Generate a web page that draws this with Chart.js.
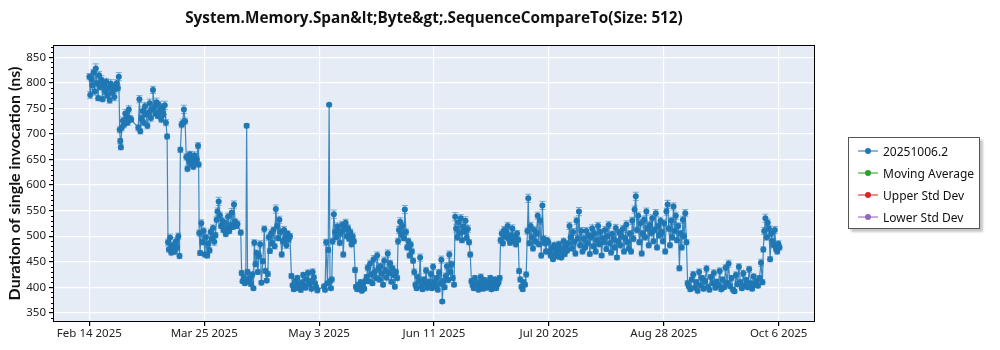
<!DOCTYPE html>
<html>
<head>
<meta charset="utf-8">
<script src="https://cdn.jsdelivr.net/npm/chart.js@4.4.1/dist/chart.umd.min.js"></script>
<style>
  body { margin: 0; background: #fff; }
  #wrap { position: relative; width: 1000px; height: 350px; }
  #chartTitle {
    position: absolute; left: 54px; width: 760px; top: 7px;
    text-align: center; font: bold 15.3px "Open Sans", sans-serif; color: #111;
  }
  #legendBox {
    position: absolute; left: 848px; top: 137px; width: 132px; height: 92px;
    border: 1px solid #555; background: #fff; box-shadow: 3px 3px 2px #c8c8c8;
    box-sizing: border-box; padding-top: 2px;
  }
  .legendRow { height: 22px; display: flex; align-items: center; white-space: nowrap;
    font: 12px "Noto Sans", sans-serif; color: #111; }
  .legendRow svg { margin: 0 5px 0 9px; flex: none; }
</style>
</head>
<body>
<div id="wrap">
  <canvas id="perfChart" width="1000" height="350"></canvas>
  <div id="chartTitle"></div>
  <div id="legendBox"></div>
</div>
<script>
const chartTitle = 'System.Memory.Span&lt;Byte&gt;.SequenceCompareTo(Size: 512)';
const seriesNames = ['20251006.2', 'Moving Average', 'Upper Std Dev', 'Lower Std Dev'];
const seriesColors = ['#1f77b4', '#2ca02c', '#d62728', '#9467bd'];

// x tick positions are days after 2025-02-14
const xTickDays = [0, 39, 78, 117, 156, 195, 234];
const xTickLabels = ['Feb 14 2025', 'Mar 25 2025', 'May 3 2025', 'Jun 11 2025', 'Jul 20 2025', 'Aug 28 2025', 'Oct 6 2025'];
const yTickValues = [350, 400, 450, 500, 550, 600, 650, 700, 750, 800, 850];

// days after Feb 14 2025 for every benchmark run
const runDays = [
  0, 0.3, 0.7, 1.0, 1.4, 1.8, 2.2, 2.6, 3.0, 3.3, 3.7, 4.1, 4.5, 4.9, 5.3, 5.7, 6.1, 6.5, 6.9, 7.3, 7.7, 8.1, 8.5, 8.9, 9.3, 9.7, 10.0,
  10.3, 10.5, 10.7, 11.0, 11.4, 11.8, 12.2, 12.6, 13.0, 13.4, 13.8, 14.2, 16.6,
  17.0, 17.3, 17.7, 18.1, 18.5, 18.9, 19.3, 19.7, 20.1, 20.5, 20.9, 21.3, 21.6, 22.0, 22.4, 22.8, 23.2, 23.6, 24.0, 24.4, 24.8, 25.2, 25.6, 26.0, 26.4,
  26.7, 27.0, 27.4, 27.8, 28.2, 28.6, 29.0, 29.4, 29.8, 30.2, 30.6, 30.9, 31.3, 31.7, 32.1, 32.5,
  32.9, 33.3, 33.7, 34.1, 34.5, 34.9, 35.3, 35.7, 36.1, 36.5, 36.9, 37.1,
  37.3, 37.6, 38.0, 38.4, 38.8, 39.2, 39.6, 40.0, 40.4, 40.8, 41.2, 41.6, 42.0, 42.4, 42.8,
  43.2, 43.5, 43.9, 44.3, 44.7, 45.1, 45.5, 45.9, 46.3, 46.7, 47.1, 47.5, 47.9, 48.3, 48.7, 49.1, 49.5, 49.9, 50.3,
  51.4, 51.7, 52.0, 52.4, 52.8, 53.1, 53.4, 53.7, 54.1, 54.5, 54.9, 55.3,
  55.7, 56.0, 56.4, 56.8, 57.2, 57.6, 58.0, 58.4, 58.9, 59.4, 59.8, 60.2, 60.6,
  60.9, 61.3, 61.7, 62.1, 62.5, 62.9, 63.3, 63.7, 64.1, 64.5, 64.9, 65.3, 65.7, 66.1, 66.5, 66.9, 67.3, 67.7, 68.1,
  68.6, 69.0, 69.4, 69.8, 70.2, 70.6, 71.0, 71.4, 71.8, 72.2, 72.6, 73.0, 73.4, 73.8, 74.2, 74.6, 75.0, 75.4, 75.8, 76.2, 76.6, 77.0, 77.4,
  79.7, 80.0, 80.4, 80.8, 81.1, 81.4, 81.7, 82.0, 82.3,
  82.6, 83.0, 83.4, 83.8, 84.2, 84.6, 85.0, 85.4, 85.8, 86.2, 86.6, 87.0, 87.4, 87.8, 88.2, 88.6, 89.0, 89.4, 89.8,
  90.2, 90.5, 90.9, 91.3, 91.7, 92.1, 92.5, 92.9, 93.3, 93.7,
  94.1, 94.5, 94.9, 95.3, 95.7, 96.1, 96.5, 96.9, 97.3, 97.7, 98.1, 98.5, 98.9, 99.3, 99.7, 100.1, 100.5, 100.9, 101.3, 101.7, 102.1, 102.5, 102.9, 103.3, 103.7, 104.1, 104.5,
  104.8, 105.1, 105.5, 105.9, 106.3, 106.7, 107.1, 107.5, 107.9, 108.3, 108.7, 109.1, 109.5, 109.9,
  110.3, 110.7, 111.1, 111.5, 111.9, 112.3, 112.7, 113.1, 113.5, 113.9, 114.3, 114.7, 115.1, 115.5, 115.9, 116.3, 116.7, 117.1, 117.5, 117.9, 118.3, 118.7, 119.1, 119.5, 119.8, 120.2, 120.6, 121.0, 121.4, 121.8, 122.2, 122.6, 123.0, 123.4, 123.8,
  124.2, 124.5, 124.9, 125.3, 125.7, 126.1, 126.5, 126.9, 127.3, 127.7, 128.1, 128.5, 128.9, 129.3,
  129.7, 130.1, 130.5, 130.9, 131.3, 131.7, 132.1, 132.5, 132.9, 133.3, 133.7, 134.1, 134.5, 134.9, 135.3, 135.7, 136.1, 136.5, 136.9, 137.3, 137.7, 138.1, 138.5, 138.9, 139.3,
  139.6, 140.0, 140.4, 140.8, 141.2, 141.6, 142.0, 142.4, 142.8, 143.2, 143.6, 144.0, 144.4, 144.8, 145.2, 145.6,
  145.9, 146.3, 146.7, 147.1, 147.5, 147.9, 148.3,
  148.7, 149.0, 149.4, 149.8, 150.2, 150.6, 151.0, 151.4, 151.8, 152.2, 152.6, 153.0, 153.4, 153.8, 154.2, 154.6, 155.0,
  155.4, 155.8, 156.2, 156.6, 157.0, 157.4, 157.8, 158.2, 158.6, 159.0, 159.4, 159.8, 160.2, 160.6, 161.0, 161.4, 161.8, 162.2, 162.6,
  163.0, 163.4, 163.8, 164.2, 164.6, 165.0, 165.4, 165.8, 166.2, 166.6, 167.0, 167.4,
  167.9, 168.3, 168.7, 169.1, 169.5, 169.9, 170.3, 170.7, 171.1, 171.5, 171.9, 172.3, 172.7, 173.1, 173.5, 173.9, 174.3, 174.7, 175.1, 175.5,
  175.9, 176.3, 176.7, 177.1, 177.5, 177.9, 178.3, 178.7, 179.1, 179.5, 179.9, 180.3, 180.7, 181.1, 181.5, 181.9, 182.3, 182.7, 183.1, 183.5,
  183.9, 184.3, 184.7, 185.1, 185.5, 185.9, 186.3, 186.7, 187.1, 187.5, 187.9, 188.3, 188.7, 189.1, 189.5, 189.9, 190.3, 190.7, 191.1, 191.5, 191.9, 192.3, 192.7, 193.1, 193.5, 193.9,
  194.3, 194.7, 195.1, 195.5, 195.9, 196.3, 196.7, 197.1, 197.5, 197.9, 198.3, 198.7, 199.1, 199.5, 199.9, 200.3, 200.7, 201.1, 201.5, 201.9, 202.3, 202.7,
  203.1, 203.5, 204.0, 204.5, 205.0, 205.5, 206.0, 206.5, 207.0, 207.5, 208.0, 208.5, 209.0, 209.5, 210.0, 210.5, 211.0, 211.5, 212.0, 212.5,
  213.0, 213.5, 214.0, 214.5, 215.0, 215.5, 216.0, 216.5, 217.0, 217.5, 218.0, 218.5, 219.0, 219.5, 220.0, 220.5, 221.0, 221.5, 222.0, 222.5,
  223.0, 223.5, 224.0, 224.5, 225.0, 225.5, 226.0, 226.5, 227.0, 227.5, 228.0, 228.5,
  228.8, 229.1, 229.5, 229.9, 230.3, 230.7, 231.1, 231.5, 231.9, 232.3, 232.7, 233.1, 233.5, 233.9, 234.3
];

// mean duration of a single invocation, ns
const durations = [
  812, 776, 808, 795, 820, 783, 828, 799, 770, 815, 792, 806, 768, 797, 784, 802, 775, 791, 766, 798, 781, 793, 772, 788, 799, 790, 812,
  708, 686, 674, 712, 726, 718, 740, 733, 722, 748, 730, 728, 712,
  768, 705, 730, 745, 722, 754, 738, 716, 742, 760, 731, 748, 786, 752, 740, 762, 735, 757, 744, 728, 749, 738, 756, 722, 695,
  488, 474, 497, 468, 482, 476, 470, 490, 478, 500, 461, 669, 718, 722, 748, 725,
  655, 632, 648, 660, 641, 652, 636, 658, 645, 650, 677, 640,
  506, 467, 525, 488, 510, 464, 498, 462, 485, 472, 508, 495, 516, 489, 502,
  532, 548, 568, 541, 520, 530, 512, 526, 504, 515, 538, 510, 522, 546, 518, 562, 528, 520, 524,
  507, 428, 412, 420, 408, 415, 716, 430, 411, 418, 406, 425,
  398, 487, 445, 467, 430, 461, 484, 409, 451, 514, 432, 413, 426,
  498, 471, 505, 486, 512, 480, 553, 520, 496, 532, 508, 464, 490, 512, 498, 482, 505, 494, 500,
  422, 404, 396, 412, 401, 418, 398, 407, 395, 410, 424, 403, 399, 415, 428, 406, 412, 397, 430, 419, 408, 400, 394,
  402, 395, 488, 408, 473, 757, 412, 398, 415,
  490, 543, 508, 498, 519, 510, 487, 505, 522, 464, 513, 526, 500, 516, 495, 508, 484, 500, 490,
  434, 401, 396, 405, 398, 410, 393, 402, 397, 412,
  420, 438, 412, 446, 425, 408, 455, 430, 418, 462, 436, 415, 441, 427, 405, 452, 433, 419, 466, 428, 447, 411, 437, 424, 401, 430, 418,
  490, 512, 528, 503, 520, 496, 552, 508, 478, 490, 462, 483, 470, 452,
  430, 405, 398, 420, 412, 458, 402, 396, 415, 408, 433, 399, 411, 405, 426, 398, 440, 410, 402, 418, 395, 429, 407, 454, 372, 412, 400, 422, 441, 414, 464, 430, 445, 418, 405,
  538, 515, 498, 527, 506, 535, 492, 519, 509, 530, 497, 514, 488, 464,
  412, 404, 398, 418, 407, 400, 395, 410, 420, 402, 397, 414, 406, 399, 411, 403, 418, 396, 408, 401, 415, 398, 405, 410, 418,
  492, 505, 486, 512, 499, 508, 520, 495, 487, 502, 515, 490, 498, 484, 505, 493,
  432, 415, 401, 396, 410, 405, 425,
  510, 574, 486, 520, 498, 476, 512, 490, 505, 540, 484, 530, 462, 560, 495, 486, 470,
  492, 488, 470, 462, 478, 455, 482, 466, 474, 460, 484, 470, 458, 476, 490, 465, 480, 472, 486,
  520, 498, 476, 508, 488, 466, 530, 495, 548, 482, 510, 470,
  495, 478, 510, 486, 502, 465, 498, 515, 480, 505, 470, 492, 520, 484, 508, 462, 496, 488, 512, 475,
  500, 522, 486, 468, 504, 494, 478, 516, 458, 490, 507, 482, 500, 514, 470, 496, 523, 488, 476, 505,
  470, 530, 495, 552, 578, 512, 540, 488, 525, 466, 505, 532, 498, 548, 515, 482, 522, 506, 535, 490, 512, 545, 478, 520, 502, 530,
  508, 490, 525, 470, 548, 562, 515, 482, 530, 498, 558, 510, 540, 492, 520, 437, 505, 478, 532, 500, 545, 488,
  408, 402, 396, 415, 425, 399, 410, 393, 430, 404, 418, 397, 412, 436, 401, 395, 420, 408, 428, 399,
  411, 404, 432, 396, 415, 400, 438, 409, 446, 402, 418, 395, 392, 424, 406, 440, 410, 398, 427, 403,
  414, 400, 435, 408, 397, 421, 405, 412, 403, 418, 448, 410,
  474, 510, 535, 498, 526, 515, 455, 505, 490, 482, 512, 475, 470, 485, 478
];

// standard deviation of each run, ns (drawn as error bars)
const stdDevs = [
  6, 7, 5, 8, 6, 7, 9, 6, 5, 7, 6, 8, 5, 6, 7, 6, 5, 7, 6, 8, 6, 5, 7, 6, 7, 6, 8,
  6, 5, 5, 6, 7, 6, 8, 6, 5, 7, 6, 5, 6,
  7, 5, 6, 8, 6, 7, 5, 6, 7, 8, 6, 5, 7, 6, 6, 8, 5, 7, 6, 5, 7, 6, 8, 6, 5,
  6, 5, 7, 5, 6, 5, 6, 7, 5, 6, 5, 5, 6, 7, 8, 6,
  6, 5, 7, 6, 5, 6, 5, 7, 6, 5, 6, 5,
  6, 5, 7, 5, 6, 5, 6, 5, 7, 5, 6, 5, 6, 7, 5,
  6, 7, 8, 6, 5, 7, 5, 6, 5, 6, 7, 5, 6, 8, 5, 7, 6, 5, 6,
  5, 5, 4, 5, 4, 5, 4, 5, 4, 5, 4, 5,
  4, 6, 5, 6, 5, 6, 7, 4, 5, 6, 5, 4, 5,
  6, 5, 7, 5, 6, 5, 8, 6, 5, 7, 6, 5, 6, 7, 5, 6, 5, 6, 5,
  5, 4, 4, 5, 4, 5, 4, 4, 5, 4, 5, 4, 4, 5, 6, 4, 5, 4, 6, 5, 4, 4, 5,
  4, 4, 6, 4, 5, 2, 5, 4, 5,
  6, 8, 6, 5, 7, 6, 5, 6, 7, 5, 6, 7, 5, 6, 5, 6, 5, 6, 5,
  5, 4, 4, 5, 4, 5, 4, 4, 4, 5,
  5, 6, 4, 7, 5, 4, 7, 6, 5, 7, 6, 5, 6, 5, 4, 7, 6, 5, 7, 5, 6, 4, 6, 5, 4, 5, 5,
  6, 7, 8, 6, 7, 5, 8, 6, 5, 6, 5, 6, 5, 5,
  6, 5, 4, 6, 5, 7, 4, 4, 5, 5, 6, 4, 5, 4, 6, 4, 6, 5, 4, 5, 4, 6, 5, 7, 3, 5, 4, 6, 7, 5, 7, 6, 6, 5, 4,
  8, 7, 6, 8, 6, 7, 5, 7, 6, 8, 6, 7, 5, 5,
  5, 4, 4, 5, 5, 4, 4, 5, 6, 4, 4, 5, 4, 4, 5, 4, 5, 4, 5, 4, 5, 4, 4, 5, 5,
  6, 7, 5, 7, 6, 6, 7, 5, 5, 6, 7, 5, 6, 5, 6, 5,
  5, 5, 4, 4, 5, 4, 5,
  6, 8, 5, 7, 6, 5, 7, 6, 6, 7, 5, 7, 5, 8, 6, 5, 5,
  6, 6, 5, 5, 6, 4, 6, 5, 5, 4, 6, 5, 4, 5, 6, 5, 6, 5, 6,
  7, 6, 5, 7, 6, 5, 7, 6, 8, 5, 7, 5,
  6, 5, 7, 5, 6, 4, 6, 7, 5, 6, 5, 6, 7, 5, 6, 4, 6, 5, 7, 5,
  6, 7, 5, 5, 6, 6, 5, 7, 4, 6, 6, 5, 6, 7, 5, 6, 7, 5, 5, 6,
  5, 7, 6, 7, 8, 6, 7, 5, 7, 5, 6, 7, 6, 7, 6, 5, 7, 6, 7, 5, 6, 7, 5, 6, 6, 7,
  6, 5, 7, 5, 7, 8, 6, 5, 7, 6, 7, 6, 7, 5, 6, 5, 6, 5, 7, 6, 7, 5,
  5, 4, 4, 5, 6, 4, 5, 4, 6, 4, 5, 4, 5, 6, 4, 4, 5, 5, 6, 4,
  5, 4, 6, 4, 5, 4, 6, 5, 7, 4, 5, 4, 4, 6, 5, 6, 5, 4, 6, 4,
  5, 4, 6, 5, 4, 5, 5, 5, 4, 5, 7, 5,
  5, 7, 8, 6, 7, 6, 5, 6, 6, 5, 7, 5, 5, 6, 5
];

// error bars, plot frame and minor ticks
const chartDecor = {
  id: 'chartDecor',
  beforeDatasetsDraw(chart) {
    const ctx = chart.ctx;
    const xs = chart.scales.x, ys = chart.scales.y;
    const area = chart.chartArea;
    ctx.save();
    ctx.beginPath();
    ctx.rect(area.left, area.top, area.right - area.left, area.bottom - area.top);
    ctx.clip();
    ctx.strokeStyle = 'rgba(31,119,180,0.55)';
    ctx.lineWidth = 1;
    for (let i = 0; i < durations.length; i++) {
      const err = stdDevs[i] || 0;
      const px = xs.getPixelForValue(runDays[i]);
      const top = ys.getPixelForValue(durations[i] + err);
      const bot = ys.getPixelForValue(durations[i] - err);
      ctx.beginPath();
      ctx.moveTo(px, top); ctx.lineTo(px, bot);
      ctx.moveTo(px - 3, top); ctx.lineTo(px + 3, top);
      ctx.moveTo(px - 3, bot); ctx.lineTo(px + 3, bot);
      ctx.stroke();
    }
    ctx.restore();
  },
  afterDraw(chart) {
    const ctx = chart.ctx;
    const area = chart.chartArea;
    const ys = chart.scales.y;
    ctx.save();
    ctx.strokeStyle = '#000';
    ctx.lineWidth = 1;
    ctx.strokeRect(area.left - 0.5, area.top - 0.5, area.right - area.left + 1, area.bottom - area.top + 1);
    ctx.beginPath();
    for (let v = 340; v <= 870; v += 10) {
      if (v % 50 === 0) continue;
      const py = Math.round(ys.getPixelForValue(v)) + 0.5;
      ctx.moveTo(area.left - 3, py); ctx.lineTo(area.left, py);
    }
    ctx.stroke();
    ctx.restore();
  }
};

const datasets = seriesNames.map((name, i) => ({
  label: name,
  data: i === 0 ? runDays.map((d, j) => ({ x: d, y: durations[j] })) : [],
  borderColor: i === 0 ? 'rgba(31,119,180,0.85)' : seriesColors[i],
  backgroundColor: seriesColors[i],
  borderWidth: 1.2,
  pointRadius: 3,
  pointBorderWidth: 0,
  pointBackgroundColor: seriesColors[i],
  tension: 0
}));

const perfChart = new Chart(document.getElementById('perfChart'), {
  type: 'line',
  data: { datasets: datasets },
  options: {
    responsive: false,
    animation: false,
    layout: { padding: { top: 46, right: 186, left: 0, bottom: 0 } },
    plugins: {
      legend: { display: false },
      tooltip: { enabled: false },
      title: { display: false }
    },
    scales: {
      x: {
        type: 'linear',
        min: -12,
        max: 246,
        afterBuildTicks: axis => { axis.ticks = xTickDays.map(v => ({ value: v })); },
        afterFit: axis => { axis.height = 29; },
        ticks: {
          autoSkip: false,
          maxRotation: 0,
          padding: 1,
          color: '#222',
          font: { family: 'Noto Sans', size: 11.5 },
          callback: v => xTickLabels[xTickDays.indexOf(v)]
        },
        grid: { color: '#ffffff', lineWidth: 1.2, tickColor: '#000', tickLength: 5 },
        border: { display: false }
      },
      y: {
        min: 334,
        max: 872,
        afterBuildTicks: axis => { axis.ticks = yTickValues.map(v => ({ value: v })); },
        afterFit: axis => { axis.width = 54; },
        ticks: {
          padding: 3,
          color: '#222',
          font: { family: 'Noto Sans', size: 11.5 }
        },
        grid: { color: '#ffffff', lineWidth: 1.2, tickColor: '#000', tickLength: 5 },
        border: { display: false },
        title: {
          display: true,
          text: 'Duration of single invocation (ns)',
          color: '#111',
          font: { family: 'Lato', size: 16, weight: 'bold' },
          padding: { top: 5, bottom: 0 }
        }
      }
    }
  },
  plugins: [{
    id: 'plotBackground',
    beforeDraw(chart) {
      const a = chart.chartArea;
      chart.ctx.save();
      chart.ctx.fillStyle = '#e5ecf6';
      chart.ctx.fillRect(a.left, a.top, a.right - a.left, a.bottom - a.top);
      chart.ctx.restore();
    }
  }, chartDecor]
});

document.getElementById('chartTitle').textContent = chartTitle;

// legend box built from the chart's datasets
const legendBox = document.getElementById('legendBox');
perfChart.data.datasets.forEach(ds => {
  const row = document.createElement('div');
  row.className = 'legendRow';
  row.innerHTML = '<svg width="20" height="8"><line x1="0" y1="4" x2="20" y2="4" stroke="' + ds.backgroundColor +
    '" stroke-opacity="0.7" stroke-width="1.5"/><circle cx="10" cy="4" r="3" fill="' + ds.backgroundColor + '"/></svg>';
  const label = document.createElement('span');
  label.textContent = ds.label;
  row.appendChild(label);
  legendBox.appendChild(row);
});
</script>
</body>
</html>
